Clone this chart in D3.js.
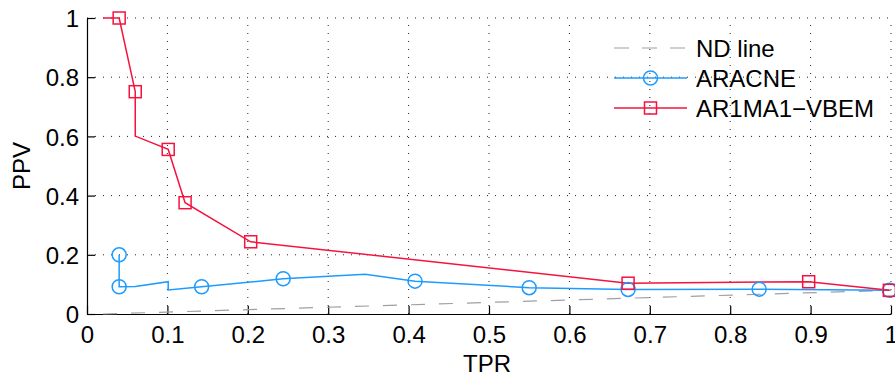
<!DOCTYPE html>
<html><head><meta charset="utf-8">
<script src="https://cdn.jsdelivr.net/npm/d3@7"></script>
<style>
html,body{margin:0;padding:0;background:#fff;}
svg{display:block;font-family:"Liberation Sans",Arial,Helvetica,sans-serif;}
</style></head>
<body>
<svg id="chart" width="895" height="375"></svg>
<script>
// ---- data ----
const xTicks = [0,0.1,0.2,0.3,0.4,0.5,0.6,0.7,0.8,0.9,1];
const yTicks = [0,0.2,0.4,0.6,0.8,1];
const ndLine = [[0.02,0],[1,0.08]];
const aracneLine = [[0.04,0.2],[0.04,0.092],[0.06,0.093],[0.101,0.109],[0.101,0.081],[0.1426,0.092],[0.244,0.119],[0.346,0.134],[0.408,0.111],[0.55,0.089],[0.673,0.083],[0.836,0.084],[0.998,0.08]];
const aracneMarkers = [[0.04,0.2],[0.04,0.092],[0.1426,0.092],[0.244,0.119],[0.408,0.111],[0.55,0.089],[0.673,0.083],[0.836,0.084],[0.998,0.08]];
const vbemLine = [[0.02,1],[0.04,1],[0.06,0.751],[0.06,0.601],[0.101,0.556],[0.122,0.376],[0.2036,0.244],[0.673,0.104],[0.8976,0.109],[0.998,0.08]];
const vbemMarkers = [[0.04,1],[0.06,0.751],[0.101,0.556],[0.122,0.376],[0.2036,0.244],[0.673,0.104],[0.8976,0.109],[0.998,0.08]];
const legendLabels = ["ND line","ARACNE","AR1MA1\u2212VBEM"];

// ---- layout ----
const L=87, R=891, T=18, B=314;
const FS=24;
const blue="#1e9bff", red="#f5133f", gray="#a0a0a0";
const svg=d3.select("#chart");
const x=d3.scaleLinear().domain([0,1]).range([L,R]);
const y=d3.scaleLinear().domain([0,1]).range([B,T]);

// grid
const g=svg.append("g");
g.selectAll(".gx").data(xTicks.slice(1)).enter().append("line")
 .attr("x1",d=>x(d)).attr("x2",d=>x(d)).attr("y1",B).attr("y2",T)
 .attr("stroke","#222").attr("stroke-width",1).attr("stroke-dasharray","1,7");
g.selectAll(".gy").data(yTicks.slice(1)).enter().append("line")
 .attr("y1",d=>y(d)).attr("y2",d=>y(d)).attr("x1",L).attr("x2",R)
 .attr("stroke","#222").attr("stroke-width",1).attr("stroke-dasharray","1,7");

// axes
const xAxis=d3.axisBottom(x).tickValues(xTicks).tickFormat(d3.format("")).tickSizeInner(-8).tickSizeOuter(0).tickPadding(14);
const yAxis=d3.axisLeft(y).tickValues(yTicks).tickFormat(d3.format("")).tickSizeInner(-8).tickSizeOuter(0).tickPadding(14);
const gx=svg.append("g").attr("transform",`translate(0,${B})`).call(xAxis);
const gy=svg.append("g").attr("transform",`translate(${L},0)`).call(yAxis);
[gx,gy].forEach(a=>{
  a.select(".domain").attr("stroke","#000").attr("stroke-width",1.2);
  a.selectAll(".tick line").attr("stroke","#000").attr("stroke-width",1.2);
  a.selectAll("text").attr("font-size",FS).attr("fill","#000").attr("font-family","Liberation Sans,Arial,sans-serif");
});
gx.selectAll("text").attr("dy","0.72em").attr("y",12);
gy.selectAll("text").attr("x",-8).attr("dy","0.36em");

// axis labels
svg.append("text").attr("x",(L+R)/2-2).attr("y",372).attr("text-anchor","middle").attr("font-size",FS).text("TPR");
svg.append("text").attr("transform",`translate(30,${(T+B)/2}) rotate(-90)`).attr("text-anchor","middle").attr("font-size",FS).text("PPV");

const line=d3.line().x(d=>x(d[0])).y(d=>y(d[1]));

// series
svg.append("path").datum(ndLine).attr("d",line).attr("fill","none").attr("stroke",gray).attr("stroke-width",1.2).attr("stroke-dasharray","14,14");
svg.append("path").datum(aracneLine).attr("d",line).attr("fill","none").attr("stroke",blue).attr("stroke-width",1.5);
svg.append("path").datum(vbemLine).attr("d",line).attr("fill","none").attr("stroke",red).attr("stroke-width",1.5);
svg.selectAll(".cm").data(aracneMarkers).enter().append("circle")
 .attr("cx",d=>x(d[0])).attr("cy",d=>y(d[1])).attr("r",7).attr("fill","none").attr("stroke",blue).attr("stroke-width",1.5);
svg.selectAll(".sm").data(vbemMarkers).enter().append("rect")
 .attr("x",d=>x(d[0])-6).attr("y",d=>y(d[1])-6).attr("width",12).attr("height",12).attr("fill","none").attr("stroke",red).attr("stroke-width",1.5);

// legend
const lg=svg.append("g");
const rowsY=[48,78,108];
const lx1=614, lx2=687, lxm=650.5;
lg.append("line").attr("x1",lx1).attr("x2",lx2).attr("y1",rowsY[0]).attr("y2",rowsY[0]).attr("stroke",gray).attr("stroke-width",1.2).attr("stroke-dasharray","15,13");
lg.append("line").attr("x1",lx1).attr("x2",lx2).attr("y1",rowsY[1]).attr("y2",rowsY[1]).attr("stroke",blue).attr("stroke-width",1.5);
lg.append("circle").attr("cx",lxm).attr("cy",rowsY[1]).attr("r",7).attr("fill","none").attr("stroke",blue).attr("stroke-width",1.5);
lg.append("line").attr("x1",lx1).attr("x2",lx2).attr("y1",rowsY[2]).attr("y2",rowsY[2]).attr("stroke",red).attr("stroke-width",1.5);
lg.append("rect").attr("x",lxm-6).attr("y",rowsY[2]-6).attr("width",12).attr("height",12).attr("fill","none").attr("stroke",red).attr("stroke-width",1.5);
lg.selectAll(".lt").data(legendLabels).enter().append("text")
 .attr("x",696).attr("y",(d,i)=>rowsY[i]+8.5).attr("font-size",FS).attr("fill","#000").text(d=>d);
</script>
</body></html>
